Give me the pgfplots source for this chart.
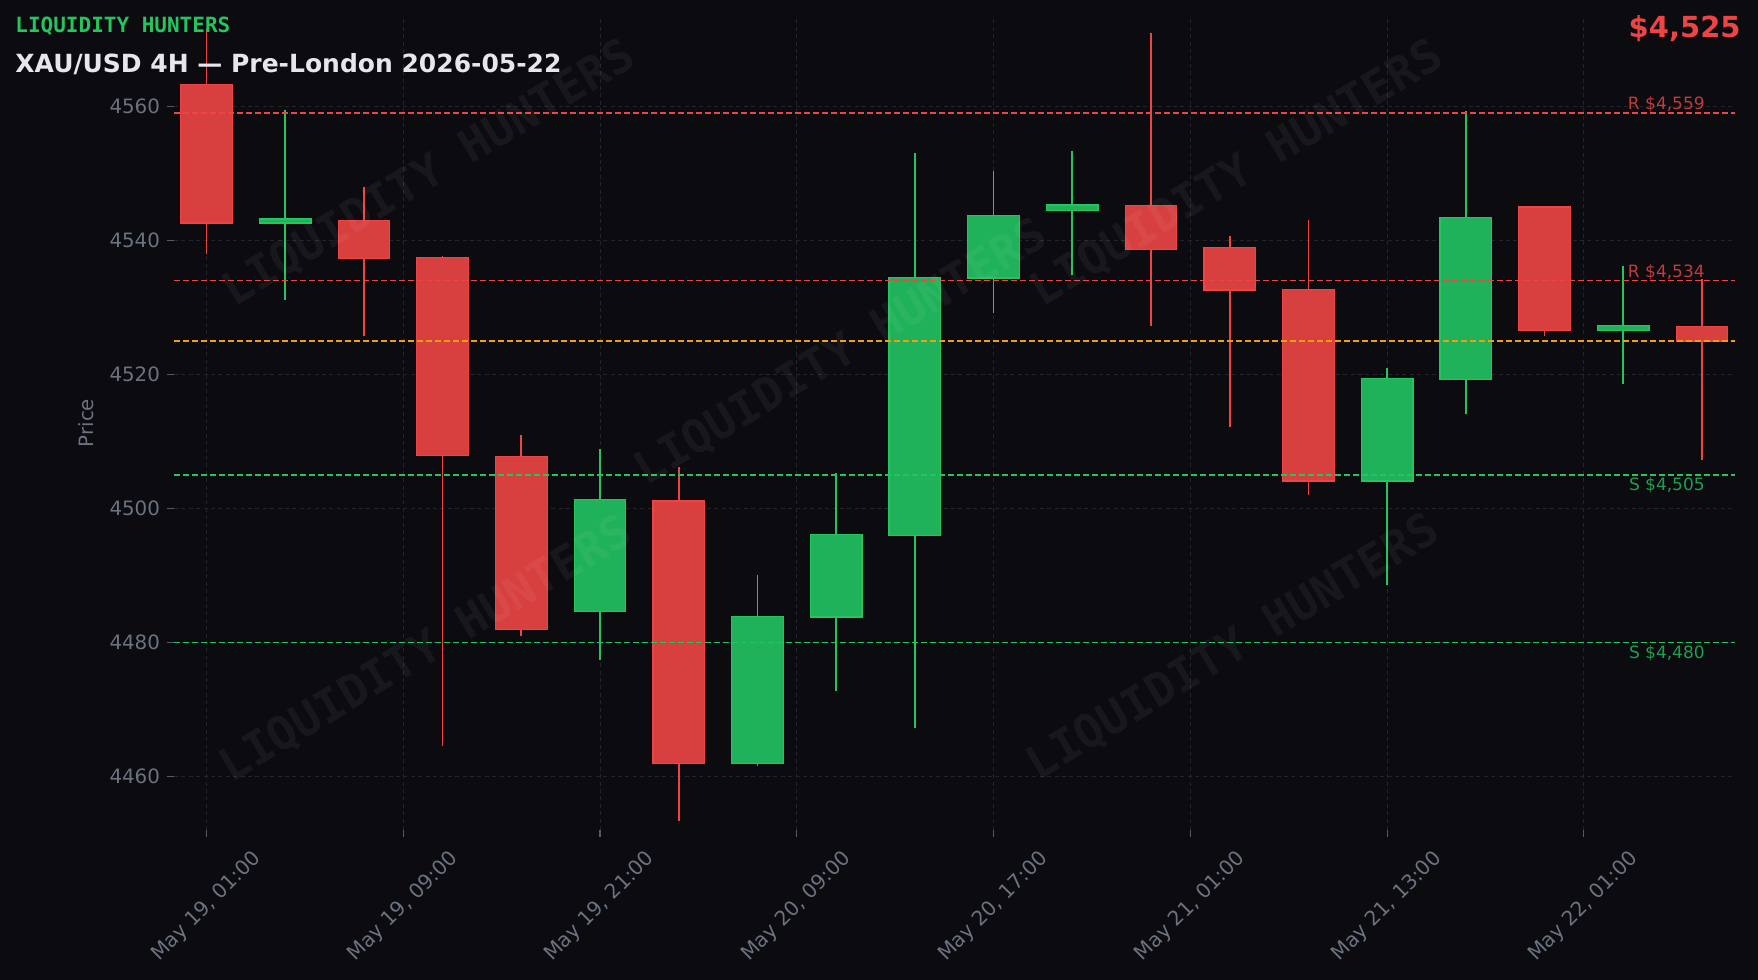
\documentclass[border=0pt]{standalone}
\usepackage{fontspec}
\usepackage{pgfplots}
\usepackage{pgfplotstable}
\pgfplotsset{compat=1.18}
\setmainfont{DejaVu Sans}
\newfontfamily\monofont{DejaVu Sans Mono}
\definecolor{bgcol}{RGB}{11,11,16}
\definecolor{gridcol}{RGB}{36,36,46}
\definecolor{tickgray}{RGB}{107,114,128}
\definecolor{tickmark}{RGB}{85,90,104}
\definecolor{cRed}{RGB}{239,68,68}
\definecolor{cRedF}{RGB}{216,64,64}
\definecolor{cGreen}{RGB}{34,197,94}
\definecolor{cGreenF}{RGB}{32,178,90}
\definecolor{cOrange}{RGB}{245,158,11}
\definecolor{titlecol}{RGB}{229,231,235}
\definecolor{rlab}{RGB}{194,58,60}
\definecolor{slab}{RGB}{29,160,78}

% i open high low close
\pgfplotstableread{
i o h l c
0 4563.3 4571.5 4538.0 4542.6
2 4543.0 4548.0 4525.7 4537.3
3 4537.5 4537.7 4464.6 4507.9
4 4507.7 4511.0 4480.9 4481.9
6 4501.1 4506.2 4453.3 4461.9
12 4545.2 4571.0 4527.3 4538.6
13 4538.9 4540.7 4512.1 4532.6
14 4532.7 4543.1 4502.0 4504.1
17 4545.0 4545.2 4525.7 4526.6
19 4527.1 4534.2 4507.3 4525.0
}\redtable
\pgfplotstableread{
i o h l c
1 4542.6 4559.5 4531.1 4543.2
5 4484.6 4508.8 4477.3 4501.3
7 4461.9 4490.1 4461.5 4483.9
8 4483.8 4505.3 4472.7 4496.1
9 4496.0 4553.1 4467.2 4534.5
10 4534.4 4550.4 4529.1 4543.7
11 4544.5 4553.4 4534.8 4545.3
15 4504.1 4521.0 4488.5 4519.4
16 4519.3 4559.3 4514.1 4543.4
18 4526.6 4536.2 4518.5 4527.3
}\greentable

\pgfplotsset{
  candle/.style n args={2}{draw=none, mark=none, forget plot,
    error bars/.cd, y dir=plus, y explicit, error mark=none,
    error bar style={line width=#1, draw=#2, line cap=butt}},
  level/.style={#1, line width=0.75pt, dash pattern=on 3pt off 1.5pt, forget plot},
}

\begin{document}
\begin{tikzpicture}
\fill[bgcol] (0pt,0pt) rectangle (879pt,490pt);
\begin{axis}[
  at={(87pt,75pt)}, anchor=south west,
  width=780.5pt, height=407pt, scale only axis,
  xmin=-0.413, xmax=19.42, ymin=4452.0, ymax=4573.5,
  axis line style={draw=none},
  xtick={0,2.5,5,7.5,10,12.5,15,17.5},
  xticklabels={{May 19, 01:00},{May 19, 09:00},{May 19, 21:00},{May 20, 09:00},{May 20, 17:00},{May 21, 01:00},{May 21, 13:00},{May 22, 01:00}},
  ytick={4460,4480,4500,4520,4540,4560},
  /pgf/number format/.cd, 1000 sep={}, assume math mode=true, /pgfplots/.cd,
  tick align=outside, xtick pos=left, ytick pos=left,
  major tick length=3.5pt,
  tick style={draw=tickmark, line width=0.6pt},
  grid=major,
  grid style={draw=gridcol, line width=0.5pt, dash pattern=on 2pt off 1.7pt},
  ticklabel style={text=tickgray, font=\fontsize{9.9}{11}\selectfont},
  xticklabel style={yshift=-34.8pt, rotate=45, anchor=center, font=\fontsize{10.1}{12}\selectfont},
]
% wicks
\addplot[candle={0.85pt}{cRed}] table[x=i, y=l, y error expr=\thisrow{h}-\thisrow{l}] {\redtable};
\addplot[candle={0.85pt}{cGreen}] table[x=i, y=l, y error expr=\thisrow{h}-\thisrow{l}] {\greentable};
% bodies: edge then fill
\addplot[candle={26.4pt}{cRed}] table[x=i, y expr=\thisrow{c}-0.09, y error expr=\thisrow{o}-\thisrow{c}+0.18] {\redtable};
\addplot[candle={25.2pt}{cRedF}] table[x=i, y expr=\thisrow{c}+0.09, y error expr=\thisrow{o}-\thisrow{c}-0.18] {\redtable};
\addplot[candle={26.4pt}{cGreen}] table[x=i, y expr=\thisrow{o}-0.09, y error expr=\thisrow{c}-\thisrow{o}+0.18] {\greentable};
\addplot[candle={25.2pt}{cGreenF}] table[x=i, y expr=\thisrow{o}+0.09, y error expr=\thisrow{c}-\thisrow{o}-0.18] {\greentable};
% levels
\addplot[level=cRed] coordinates {(-0.413,4559) (19.42,4559)};
\addplot[level=cRed] coordinates {(-0.413,4534) (19.42,4534)};
\addplot[level=cOrange] coordinates {(-0.413,4525) (19.42,4525)};
\addplot[level=cGreen] coordinates {(-0.413,4505) (19.42,4505)};
\addplot[level=cGreen] coordinates {(-0.413,4480) (19.42,4480)};
\node[anchor=base east, inner sep=0pt, text=rlab, font=\fontsize{8.5}{10}\selectfont, yshift=1.6pt] at (axis cs:19.04,4559) {R \$4,559};
\node[anchor=base east, inner sep=0pt, text=rlab, font=\fontsize{8.5}{10}\selectfont, yshift=1.6pt] at (axis cs:19.04,4534) {R \$4,534};
\node[anchor=north east, inner sep=0pt, text=slab, font=\fontsize{8.5}{10}\selectfont, yshift=-1.2pt] at (axis cs:19.04,4505) {S \$4,505};
\node[anchor=north east, inner sep=0pt, text=slab, font=\fontsize{8.5}{10}\selectfont, yshift=-1.2pt] at (axis cs:19.04,4480) {S \$4,480};
\end{axis}
% watermarks
\foreach \px/\py in {214.5/403, 618.5/403, 420.5/313.5, 213/165, 616.5/166}{
  \node[rotate=31, text=white, text opacity=0.05, font=\monofont\bfseries\fontsize{23}{23}\selectfont] at (\px pt,\py pt) {LIQUIDITY HUNTERS};
}
% y label
\node[rotate=90, text=tickgray, font=\fontsize{9.9}{11}\selectfont] at (43pt,278.5pt) {Price};
% header texts
\node[anchor=base west, inner sep=0pt, text=cGreen, font=\monofont\bfseries\fontsize{10.5}{13}\selectfont] at (7.5pt,473.5pt) {LIQUIDITY HUNTERS};
\node[anchor=base west, inner sep=0pt, text=titlecol, font=\bfseries\fontsize{12.5}{15}\selectfont] at (7.5pt,453.5pt) {XAU/USD 4H — Pre-London 2026-05-22};
\node[anchor=base east, inner sep=0pt, text=cRed, font=\bfseries\fontsize{14.5}{17}\selectfont] at (870.5pt,471pt) {\$4,525};
\pgfresetboundingbox
\path[use as bounding box] (0pt,0pt) rectangle (879pt,490pt);
\end{tikzpicture}
\end{document}
